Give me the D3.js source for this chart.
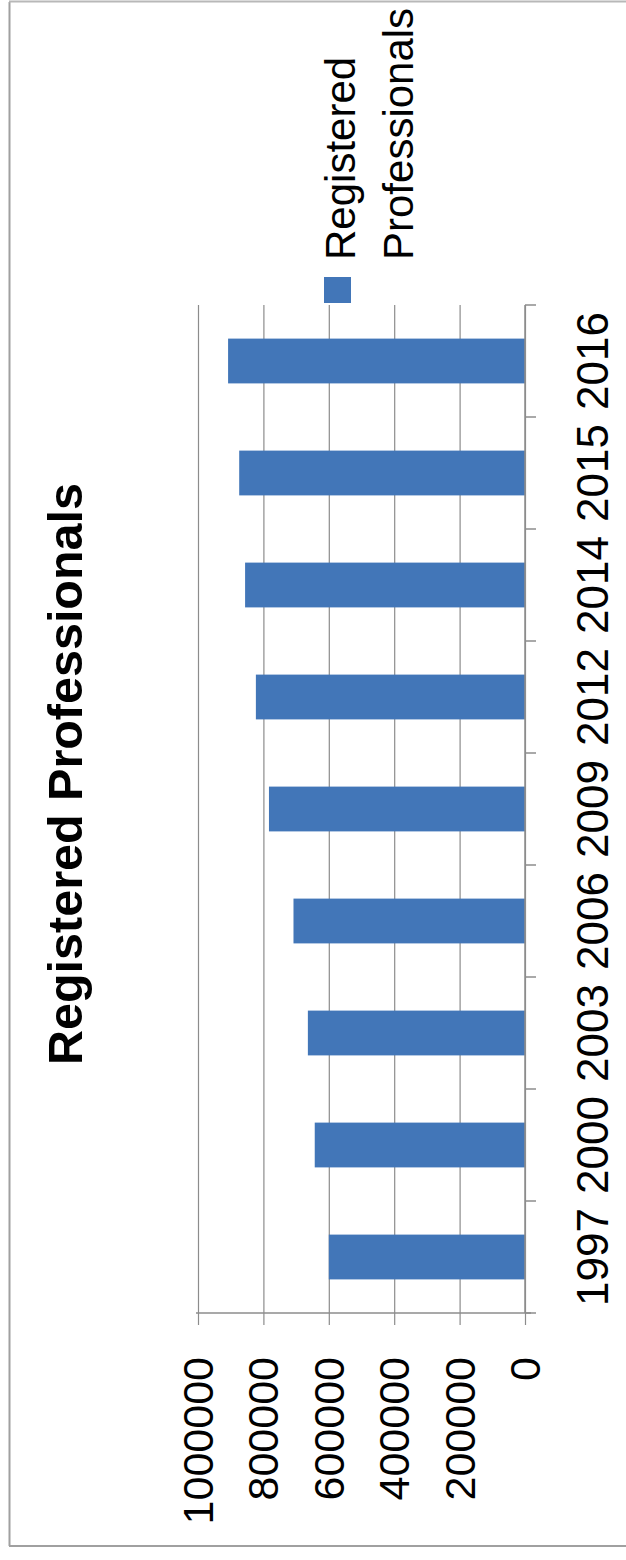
<!DOCTYPE html>
<html>
<head>
<meta charset="utf-8">
<script src="https://cdn.jsdelivr.net/npm/d3@7"></script>
<style>
  html, body { margin: 0; padding: 0; background: #ffffff; }
  svg { display: block; }
  text { font-family: "Liberation Sans", Arial, sans-serif; fill: #000; }
</style>
</head>
<body>
<svg id="chart" width="626" height="1560"></svg>
<script>
// ---- data ----
const categories = ["1997", "2000", "2003", "2006", "2009", "2012", "2014", "2015", "2016"];
const values = [600000, 643000, 664000, 708000, 783000, 823000, 856000, 874000, 908000];
const valueTicks = [0, 200000, 400000, 600000, 800000, 1000000];
const seriesName = "Registered Professionals";
const legendLines = ["Registered", "Professionals"];
const titleText = "Registered Professionals";

// ---- layout (chart is rotated 90° counter-clockwise) ----
const svg = d3.select("#chart");
const W = 626, H = 1560;
const plot = { left: 198, right: 525, top: 305, bottom: 1313 };
const barColor = "#4276b8";
const gridColor = "#8c8c8c";

// outer border
svg.append("line").attr("x1", 9.5).attr("x2", 9.5).attr("y1", 2).attr("y2", 1546)
  .attr("stroke", "#a0a0a0").attr("stroke-width", 2);
svg.append("line").attr("x1", 9).attr("x2", W).attr("y1", 1546).attr("y2", 1546)
  .attr("stroke", "#a0a0a0").attr("stroke-width", 2);
svg.append("line").attr("x1", 9).attr("x2", W).attr("y1", 1.5).attr("y2", 1.5)
  .attr("stroke", "#b8b8b8").attr("stroke-width", 2);

// scales
const x = d3.scaleLinear().domain([0, 1000000]).range([plot.right, plot.left]);
const y = d3.scaleBand().domain(categories).range([plot.bottom, plot.top])
  .paddingInner(0.6).paddingOuter(0.3);

// gridlines + value axis (bottom), built with d3 axis
const gridAxis = d3.axisBottom(x).tickValues(valueTicks)
  .tickSize(-(plot.bottom - plot.top)).tickFormat("");
const gGrid = svg.append("g").attr("transform", `translate(0,${plot.bottom})`).call(gridAxis);
gGrid.select(".domain").remove();
gGrid.selectAll(".tick line").attr("stroke", gridColor).attr("stroke-width", 1.2);

const valAxis = d3.axisBottom(x).tickValues(valueTicks).tickSize(12).tickFormat("");
const gVal = svg.append("g").attr("transform", `translate(0,${plot.bottom})`).call(valAxis);
gVal.select(".domain").attr("stroke", gridColor).attr("stroke-width", 1.5)
  .attr("d", `M${plot.left - 2},0H${plot.right + 6}`);
gVal.selectAll(".tick line").attr("stroke", gridColor).attr("stroke-width", 1.2);

// value tick labels (rotated)
svg.append("g").selectAll("text").data(valueTicks).join("text")
  .attr("transform", d => `translate(${x(d) + 15},1357) rotate(-90)`)
  .attr("text-anchor", "end")
  .attr("font-size", 43)
  .text(d => String(d));

// bars
svg.append("g").selectAll("rect").data(categories).join("rect")
  .attr("x", (d, i) => x(values[i]))
  .attr("y", d => y(d))
  .attr("width", (d, i) => x(0) - x(values[i]))
  .attr("height", y.bandwidth())
  .attr("fill", barColor);

// category axis (right side, at zero)
const step = y.step();
const boundaries = [plot.top].concat(categories.map(c => y(c) - step * 0.3 + step));
const gCat = svg.append("g");
gCat.append("line").attr("x1", x(0)).attr("x2", x(0)).attr("y1", plot.top).attr("y2", plot.bottom)
  .attr("stroke", gridColor).attr("stroke-width", 1.5);
gCat.selectAll("line.tk").data(boundaries).join("line").attr("class", "tk")
  .attr("x1", x(0)).attr("x2", x(0) + 11)
  .attr("y1", d => d).attr("y2", d => d)
  .attr("stroke", gridColor).attr("stroke-width", 1.5);

// category labels (rotated)
svg.append("g").selectAll("text").data(categories).join("text")
  .attr("transform", d => `translate(608,${y(d) + y.bandwidth() / 2}) rotate(-90)`)
  .attr("text-anchor", "middle")
  .attr("font-size", 44)
  .text(d => d);

// title
svg.append("text")
  .attr("transform", "translate(82,774) rotate(-90)")
  .attr("text-anchor", "middle")
  .attr("font-size", 49)
  .attr("font-weight", "bold")
  .attr("textLength", 582)
  .attr("lengthAdjust", "spacingAndGlyphs")
  .text(titleText);

// legend
const gLeg = svg.append("g");
gLeg.append("rect").attr("x", 324).attr("y", 277).attr("width", 27).attr("height", 26)
  .attr("fill", barColor);
gLeg.selectAll("text").data(legendLines).join("text")
  .attr("transform", (d, i) => `translate(${355 + i * 58},260) rotate(-90)`)
  .attr("text-anchor", "start")
  .attr("font-size", 42)
  .text(d => d);
</script>
</body>
</html>
